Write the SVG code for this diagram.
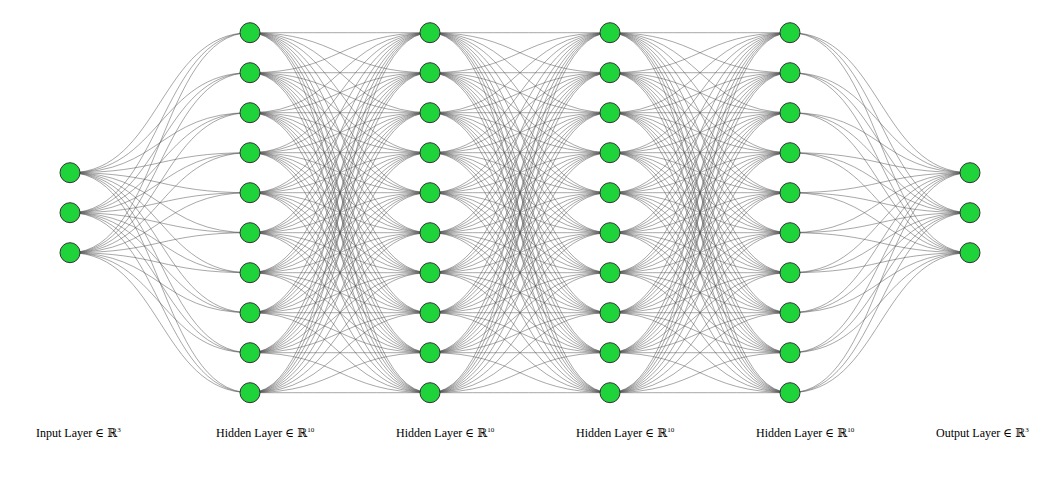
<svg xmlns="http://www.w3.org/2000/svg" width="1052" height="477" viewBox="0 0 1052 477">
<style>
.e{fill:none;stroke:#505050;stroke-width:0.5;}
.n{fill:#1fd43b;stroke:#333333;stroke-width:1;}
.t{font-family:"Liberation Serif","DejaVu Serif",serif;font-size:12px;fill:#000;}
.s{font-size:7px;}
</style>
<rect width="1052" height="477" fill="#ffffff"/>
<g id="connectors">
<path class="e" d="M70 172.7c90 0 90-140 180-140"/><path class="e" d="M70 172.7c90 0 90-100 180-100"/><path class="e" d="M70 172.7c90 0 90-60 180-60"/><path class="e" d="M70 172.7c90 0 90-20 180-20"/><path class="e" d="M70 172.7c90 0 90 20 180 20"/><path class="e" d="M70 172.7c90 0 90 60 180 60"/><path class="e" d="M70 172.7c90 0 90 100 180 100"/><path class="e" d="M70 172.7c90 0 90 140 180 140"/><path class="e" d="M70 172.7c90 0 90 180 180 180"/><path class="e" d="M70 172.7c90 0 90 220 180 220"/>
<path class="e" d="M70 212.7c90 0 90-180 180-180"/><path class="e" d="M70 212.7c90 0 90-140 180-140"/><path class="e" d="M70 212.7c90 0 90-100 180-100"/><path class="e" d="M70 212.7c90 0 90-60 180-60"/><path class="e" d="M70 212.7c90 0 90-20 180-20"/><path class="e" d="M70 212.7c90 0 90 20 180 20"/><path class="e" d="M70 212.7c90 0 90 60 180 60"/><path class="e" d="M70 212.7c90 0 90 100 180 100"/><path class="e" d="M70 212.7c90 0 90 140 180 140"/><path class="e" d="M70 212.7c90 0 90 180 180 180"/>
<path class="e" d="M70 252.7c90 0 90-220 180-220"/><path class="e" d="M70 252.7c90 0 90-180 180-180"/><path class="e" d="M70 252.7c90 0 90-140 180-140"/><path class="e" d="M70 252.7c90 0 90-100 180-100"/><path class="e" d="M70 252.7c90 0 90-60 180-60"/><path class="e" d="M70 252.7c90 0 90-20 180-20"/><path class="e" d="M70 252.7c90 0 90 20 180 20"/><path class="e" d="M70 252.7c90 0 90 60 180 60"/><path class="e" d="M70 252.7c90 0 90 100 180 100"/><path class="e" d="M70 252.7c90 0 90 140 180 140"/>

<path class="e" d="M250 32.7c90 0 90 0 180 0"/><path class="e" d="M250 32.7c90 0 90 40 180 40"/><path class="e" d="M250 32.7c90 0 90 80 180 80"/><path class="e" d="M250 32.7c90 0 90 120 180 120"/><path class="e" d="M250 32.7c90 0 90 160 180 160"/><path class="e" d="M250 32.7c90 0 90 200 180 200"/><path class="e" d="M250 32.7c90 0 90 240 180 240"/><path class="e" d="M250 32.7c90 0 90 280 180 280"/><path class="e" d="M250 32.7c90 0 90 320 180 320"/><path class="e" d="M250 32.7c90 0 90 360 180 360"/>
<path class="e" d="M250 72.7c90 0 90-40 180-40"/><path class="e" d="M250 72.7c90 0 90 0 180 0"/><path class="e" d="M250 72.7c90 0 90 40 180 40"/><path class="e" d="M250 72.7c90 0 90 80 180 80"/><path class="e" d="M250 72.7c90 0 90 120 180 120"/><path class="e" d="M250 72.7c90 0 90 160 180 160"/><path class="e" d="M250 72.7c90 0 90 200 180 200"/><path class="e" d="M250 72.7c90 0 90 240 180 240"/><path class="e" d="M250 72.7c90 0 90 280 180 280"/><path class="e" d="M250 72.7c90 0 90 320 180 320"/>
<path class="e" d="M250 112.7c90 0 90-80 180-80"/><path class="e" d="M250 112.7c90 0 90-40 180-40"/><path class="e" d="M250 112.7c90 0 90 0 180 0"/><path class="e" d="M250 112.7c90 0 90 40 180 40"/><path class="e" d="M250 112.7c90 0 90 80 180 80"/><path class="e" d="M250 112.7c90 0 90 120 180 120"/><path class="e" d="M250 112.7c90 0 90 160 180 160"/><path class="e" d="M250 112.7c90 0 90 200 180 200"/><path class="e" d="M250 112.7c90 0 90 240 180 240"/><path class="e" d="M250 112.7c90 0 90 280 180 280"/>
<path class="e" d="M250 152.7c90 0 90-120 180-120"/><path class="e" d="M250 152.7c90 0 90-80 180-80"/><path class="e" d="M250 152.7c90 0 90-40 180-40"/><path class="e" d="M250 152.7c90 0 90 0 180 0"/><path class="e" d="M250 152.7c90 0 90 40 180 40"/><path class="e" d="M250 152.7c90 0 90 80 180 80"/><path class="e" d="M250 152.7c90 0 90 120 180 120"/><path class="e" d="M250 152.7c90 0 90 160 180 160"/><path class="e" d="M250 152.7c90 0 90 200 180 200"/><path class="e" d="M250 152.7c90 0 90 240 180 240"/>
<path class="e" d="M250 192.7c90 0 90-160 180-160"/><path class="e" d="M250 192.7c90 0 90-120 180-120"/><path class="e" d="M250 192.7c90 0 90-80 180-80"/><path class="e" d="M250 192.7c90 0 90-40 180-40"/><path class="e" d="M250 192.7c90 0 90 0 180 0"/><path class="e" d="M250 192.7c90 0 90 40 180 40"/><path class="e" d="M250 192.7c90 0 90 80 180 80"/><path class="e" d="M250 192.7c90 0 90 120 180 120"/><path class="e" d="M250 192.7c90 0 90 160 180 160"/><path class="e" d="M250 192.7c90 0 90 200 180 200"/>
<path class="e" d="M250 232.7c90 0 90-200 180-200"/><path class="e" d="M250 232.7c90 0 90-160 180-160"/><path class="e" d="M250 232.7c90 0 90-120 180-120"/><path class="e" d="M250 232.7c90 0 90-80 180-80"/><path class="e" d="M250 232.7c90 0 90-40 180-40"/><path class="e" d="M250 232.7c90 0 90 0 180 0"/><path class="e" d="M250 232.7c90 0 90 40 180 40"/><path class="e" d="M250 232.7c90 0 90 80 180 80"/><path class="e" d="M250 232.7c90 0 90 120 180 120"/><path class="e" d="M250 232.7c90 0 90 160 180 160"/>
<path class="e" d="M250 272.7c90 0 90-240 180-240"/><path class="e" d="M250 272.7c90 0 90-200 180-200"/><path class="e" d="M250 272.7c90 0 90-160 180-160"/><path class="e" d="M250 272.7c90 0 90-120 180-120"/><path class="e" d="M250 272.7c90 0 90-80 180-80"/><path class="e" d="M250 272.7c90 0 90-40 180-40"/><path class="e" d="M250 272.7c90 0 90 0 180 0"/><path class="e" d="M250 272.7c90 0 90 40 180 40"/><path class="e" d="M250 272.7c90 0 90 80 180 80"/><path class="e" d="M250 272.7c90 0 90 120 180 120"/>
<path class="e" d="M250 312.7c90 0 90-280 180-280"/><path class="e" d="M250 312.7c90 0 90-240 180-240"/><path class="e" d="M250 312.7c90 0 90-200 180-200"/><path class="e" d="M250 312.7c90 0 90-160 180-160"/><path class="e" d="M250 312.7c90 0 90-120 180-120"/><path class="e" d="M250 312.7c90 0 90-80 180-80"/><path class="e" d="M250 312.7c90 0 90-40 180-40"/><path class="e" d="M250 312.7c90 0 90 0 180 0"/><path class="e" d="M250 312.7c90 0 90 40 180 40"/><path class="e" d="M250 312.7c90 0 90 80 180 80"/>
<path class="e" d="M250 352.7c90 0 90-320 180-320"/><path class="e" d="M250 352.7c90 0 90-280 180-280"/><path class="e" d="M250 352.7c90 0 90-240 180-240"/><path class="e" d="M250 352.7c90 0 90-200 180-200"/><path class="e" d="M250 352.7c90 0 90-160 180-160"/><path class="e" d="M250 352.7c90 0 90-120 180-120"/><path class="e" d="M250 352.7c90 0 90-80 180-80"/><path class="e" d="M250 352.7c90 0 90-40 180-40"/><path class="e" d="M250 352.7c90 0 90 0 180 0"/><path class="e" d="M250 352.7c90 0 90 40 180 40"/>
<path class="e" d="M250 392.7c90 0 90-360 180-360"/><path class="e" d="M250 392.7c90 0 90-320 180-320"/><path class="e" d="M250 392.7c90 0 90-280 180-280"/><path class="e" d="M250 392.7c90 0 90-240 180-240"/><path class="e" d="M250 392.7c90 0 90-200 180-200"/><path class="e" d="M250 392.7c90 0 90-160 180-160"/><path class="e" d="M250 392.7c90 0 90-120 180-120"/><path class="e" d="M250 392.7c90 0 90-80 180-80"/><path class="e" d="M250 392.7c90 0 90-40 180-40"/><path class="e" d="M250 392.7c90 0 90 0 180 0"/>

<path class="e" d="M430 32.7c90 0 90 0 180 0"/><path class="e" d="M430 32.7c90 0 90 40 180 40"/><path class="e" d="M430 32.7c90 0 90 80 180 80"/><path class="e" d="M430 32.7c90 0 90 120 180 120"/><path class="e" d="M430 32.7c90 0 90 160 180 160"/><path class="e" d="M430 32.7c90 0 90 200 180 200"/><path class="e" d="M430 32.7c90 0 90 240 180 240"/><path class="e" d="M430 32.7c90 0 90 280 180 280"/><path class="e" d="M430 32.7c90 0 90 320 180 320"/><path class="e" d="M430 32.7c90 0 90 360 180 360"/>
<path class="e" d="M430 72.7c90 0 90-40 180-40"/><path class="e" d="M430 72.7c90 0 90 0 180 0"/><path class="e" d="M430 72.7c90 0 90 40 180 40"/><path class="e" d="M430 72.7c90 0 90 80 180 80"/><path class="e" d="M430 72.7c90 0 90 120 180 120"/><path class="e" d="M430 72.7c90 0 90 160 180 160"/><path class="e" d="M430 72.7c90 0 90 200 180 200"/><path class="e" d="M430 72.7c90 0 90 240 180 240"/><path class="e" d="M430 72.7c90 0 90 280 180 280"/><path class="e" d="M430 72.7c90 0 90 320 180 320"/>
<path class="e" d="M430 112.7c90 0 90-80 180-80"/><path class="e" d="M430 112.7c90 0 90-40 180-40"/><path class="e" d="M430 112.7c90 0 90 0 180 0"/><path class="e" d="M430 112.7c90 0 90 40 180 40"/><path class="e" d="M430 112.7c90 0 90 80 180 80"/><path class="e" d="M430 112.7c90 0 90 120 180 120"/><path class="e" d="M430 112.7c90 0 90 160 180 160"/><path class="e" d="M430 112.7c90 0 90 200 180 200"/><path class="e" d="M430 112.7c90 0 90 240 180 240"/><path class="e" d="M430 112.7c90 0 90 280 180 280"/>
<path class="e" d="M430 152.7c90 0 90-120 180-120"/><path class="e" d="M430 152.7c90 0 90-80 180-80"/><path class="e" d="M430 152.7c90 0 90-40 180-40"/><path class="e" d="M430 152.7c90 0 90 0 180 0"/><path class="e" d="M430 152.7c90 0 90 40 180 40"/><path class="e" d="M430 152.7c90 0 90 80 180 80"/><path class="e" d="M430 152.7c90 0 90 120 180 120"/><path class="e" d="M430 152.7c90 0 90 160 180 160"/><path class="e" d="M430 152.7c90 0 90 200 180 200"/><path class="e" d="M430 152.7c90 0 90 240 180 240"/>
<path class="e" d="M430 192.7c90 0 90-160 180-160"/><path class="e" d="M430 192.7c90 0 90-120 180-120"/><path class="e" d="M430 192.7c90 0 90-80 180-80"/><path class="e" d="M430 192.7c90 0 90-40 180-40"/><path class="e" d="M430 192.7c90 0 90 0 180 0"/><path class="e" d="M430 192.7c90 0 90 40 180 40"/><path class="e" d="M430 192.7c90 0 90 80 180 80"/><path class="e" d="M430 192.7c90 0 90 120 180 120"/><path class="e" d="M430 192.7c90 0 90 160 180 160"/><path class="e" d="M430 192.7c90 0 90 200 180 200"/>
<path class="e" d="M430 232.7c90 0 90-200 180-200"/><path class="e" d="M430 232.7c90 0 90-160 180-160"/><path class="e" d="M430 232.7c90 0 90-120 180-120"/><path class="e" d="M430 232.7c90 0 90-80 180-80"/><path class="e" d="M430 232.7c90 0 90-40 180-40"/><path class="e" d="M430 232.7c90 0 90 0 180 0"/><path class="e" d="M430 232.7c90 0 90 40 180 40"/><path class="e" d="M430 232.7c90 0 90 80 180 80"/><path class="e" d="M430 232.7c90 0 90 120 180 120"/><path class="e" d="M430 232.7c90 0 90 160 180 160"/>
<path class="e" d="M430 272.7c90 0 90-240 180-240"/><path class="e" d="M430 272.7c90 0 90-200 180-200"/><path class="e" d="M430 272.7c90 0 90-160 180-160"/><path class="e" d="M430 272.7c90 0 90-120 180-120"/><path class="e" d="M430 272.7c90 0 90-80 180-80"/><path class="e" d="M430 272.7c90 0 90-40 180-40"/><path class="e" d="M430 272.7c90 0 90 0 180 0"/><path class="e" d="M430 272.7c90 0 90 40 180 40"/><path class="e" d="M430 272.7c90 0 90 80 180 80"/><path class="e" d="M430 272.7c90 0 90 120 180 120"/>
<path class="e" d="M430 312.7c90 0 90-280 180-280"/><path class="e" d="M430 312.7c90 0 90-240 180-240"/><path class="e" d="M430 312.7c90 0 90-200 180-200"/><path class="e" d="M430 312.7c90 0 90-160 180-160"/><path class="e" d="M430 312.7c90 0 90-120 180-120"/><path class="e" d="M430 312.7c90 0 90-80 180-80"/><path class="e" d="M430 312.7c90 0 90-40 180-40"/><path class="e" d="M430 312.7c90 0 90 0 180 0"/><path class="e" d="M430 312.7c90 0 90 40 180 40"/><path class="e" d="M430 312.7c90 0 90 80 180 80"/>
<path class="e" d="M430 352.7c90 0 90-320 180-320"/><path class="e" d="M430 352.7c90 0 90-280 180-280"/><path class="e" d="M430 352.7c90 0 90-240 180-240"/><path class="e" d="M430 352.7c90 0 90-200 180-200"/><path class="e" d="M430 352.7c90 0 90-160 180-160"/><path class="e" d="M430 352.7c90 0 90-120 180-120"/><path class="e" d="M430 352.7c90 0 90-80 180-80"/><path class="e" d="M430 352.7c90 0 90-40 180-40"/><path class="e" d="M430 352.7c90 0 90 0 180 0"/><path class="e" d="M430 352.7c90 0 90 40 180 40"/>
<path class="e" d="M430 392.7c90 0 90-360 180-360"/><path class="e" d="M430 392.7c90 0 90-320 180-320"/><path class="e" d="M430 392.7c90 0 90-280 180-280"/><path class="e" d="M430 392.7c90 0 90-240 180-240"/><path class="e" d="M430 392.7c90 0 90-200 180-200"/><path class="e" d="M430 392.7c90 0 90-160 180-160"/><path class="e" d="M430 392.7c90 0 90-120 180-120"/><path class="e" d="M430 392.7c90 0 90-80 180-80"/><path class="e" d="M430 392.7c90 0 90-40 180-40"/><path class="e" d="M430 392.7c90 0 90 0 180 0"/>

<path class="e" d="M610 32.7c90 0 90 0 180 0"/><path class="e" d="M610 32.7c90 0 90 40 180 40"/><path class="e" d="M610 32.7c90 0 90 80 180 80"/><path class="e" d="M610 32.7c90 0 90 120 180 120"/><path class="e" d="M610 32.7c90 0 90 160 180 160"/><path class="e" d="M610 32.7c90 0 90 200 180 200"/><path class="e" d="M610 32.7c90 0 90 240 180 240"/><path class="e" d="M610 32.7c90 0 90 280 180 280"/><path class="e" d="M610 32.7c90 0 90 320 180 320"/><path class="e" d="M610 32.7c90 0 90 360 180 360"/>
<path class="e" d="M610 72.7c90 0 90-40 180-40"/><path class="e" d="M610 72.7c90 0 90 0 180 0"/><path class="e" d="M610 72.7c90 0 90 40 180 40"/><path class="e" d="M610 72.7c90 0 90 80 180 80"/><path class="e" d="M610 72.7c90 0 90 120 180 120"/><path class="e" d="M610 72.7c90 0 90 160 180 160"/><path class="e" d="M610 72.7c90 0 90 200 180 200"/><path class="e" d="M610 72.7c90 0 90 240 180 240"/><path class="e" d="M610 72.7c90 0 90 280 180 280"/><path class="e" d="M610 72.7c90 0 90 320 180 320"/>
<path class="e" d="M610 112.7c90 0 90-80 180-80"/><path class="e" d="M610 112.7c90 0 90-40 180-40"/><path class="e" d="M610 112.7c90 0 90 0 180 0"/><path class="e" d="M610 112.7c90 0 90 40 180 40"/><path class="e" d="M610 112.7c90 0 90 80 180 80"/><path class="e" d="M610 112.7c90 0 90 120 180 120"/><path class="e" d="M610 112.7c90 0 90 160 180 160"/><path class="e" d="M610 112.7c90 0 90 200 180 200"/><path class="e" d="M610 112.7c90 0 90 240 180 240"/><path class="e" d="M610 112.7c90 0 90 280 180 280"/>
<path class="e" d="M610 152.7c90 0 90-120 180-120"/><path class="e" d="M610 152.7c90 0 90-80 180-80"/><path class="e" d="M610 152.7c90 0 90-40 180-40"/><path class="e" d="M610 152.7c90 0 90 0 180 0"/><path class="e" d="M610 152.7c90 0 90 40 180 40"/><path class="e" d="M610 152.7c90 0 90 80 180 80"/><path class="e" d="M610 152.7c90 0 90 120 180 120"/><path class="e" d="M610 152.7c90 0 90 160 180 160"/><path class="e" d="M610 152.7c90 0 90 200 180 200"/><path class="e" d="M610 152.7c90 0 90 240 180 240"/>
<path class="e" d="M610 192.7c90 0 90-160 180-160"/><path class="e" d="M610 192.7c90 0 90-120 180-120"/><path class="e" d="M610 192.7c90 0 90-80 180-80"/><path class="e" d="M610 192.7c90 0 90-40 180-40"/><path class="e" d="M610 192.7c90 0 90 0 180 0"/><path class="e" d="M610 192.7c90 0 90 40 180 40"/><path class="e" d="M610 192.7c90 0 90 80 180 80"/><path class="e" d="M610 192.7c90 0 90 120 180 120"/><path class="e" d="M610 192.7c90 0 90 160 180 160"/><path class="e" d="M610 192.7c90 0 90 200 180 200"/>
<path class="e" d="M610 232.7c90 0 90-200 180-200"/><path class="e" d="M610 232.7c90 0 90-160 180-160"/><path class="e" d="M610 232.7c90 0 90-120 180-120"/><path class="e" d="M610 232.7c90 0 90-80 180-80"/><path class="e" d="M610 232.7c90 0 90-40 180-40"/><path class="e" d="M610 232.7c90 0 90 0 180 0"/><path class="e" d="M610 232.7c90 0 90 40 180 40"/><path class="e" d="M610 232.7c90 0 90 80 180 80"/><path class="e" d="M610 232.7c90 0 90 120 180 120"/><path class="e" d="M610 232.7c90 0 90 160 180 160"/>
<path class="e" d="M610 272.7c90 0 90-240 180-240"/><path class="e" d="M610 272.7c90 0 90-200 180-200"/><path class="e" d="M610 272.7c90 0 90-160 180-160"/><path class="e" d="M610 272.7c90 0 90-120 180-120"/><path class="e" d="M610 272.7c90 0 90-80 180-80"/><path class="e" d="M610 272.7c90 0 90-40 180-40"/><path class="e" d="M610 272.7c90 0 90 0 180 0"/><path class="e" d="M610 272.7c90 0 90 40 180 40"/><path class="e" d="M610 272.7c90 0 90 80 180 80"/><path class="e" d="M610 272.7c90 0 90 120 180 120"/>
<path class="e" d="M610 312.7c90 0 90-280 180-280"/><path class="e" d="M610 312.7c90 0 90-240 180-240"/><path class="e" d="M610 312.7c90 0 90-200 180-200"/><path class="e" d="M610 312.7c90 0 90-160 180-160"/><path class="e" d="M610 312.7c90 0 90-120 180-120"/><path class="e" d="M610 312.7c90 0 90-80 180-80"/><path class="e" d="M610 312.7c90 0 90-40 180-40"/><path class="e" d="M610 312.7c90 0 90 0 180 0"/><path class="e" d="M610 312.7c90 0 90 40 180 40"/><path class="e" d="M610 312.7c90 0 90 80 180 80"/>
<path class="e" d="M610 352.7c90 0 90-320 180-320"/><path class="e" d="M610 352.7c90 0 90-280 180-280"/><path class="e" d="M610 352.7c90 0 90-240 180-240"/><path class="e" d="M610 352.7c90 0 90-200 180-200"/><path class="e" d="M610 352.7c90 0 90-160 180-160"/><path class="e" d="M610 352.7c90 0 90-120 180-120"/><path class="e" d="M610 352.7c90 0 90-80 180-80"/><path class="e" d="M610 352.7c90 0 90-40 180-40"/><path class="e" d="M610 352.7c90 0 90 0 180 0"/><path class="e" d="M610 352.7c90 0 90 40 180 40"/>
<path class="e" d="M610 392.7c90 0 90-360 180-360"/><path class="e" d="M610 392.7c90 0 90-320 180-320"/><path class="e" d="M610 392.7c90 0 90-280 180-280"/><path class="e" d="M610 392.7c90 0 90-240 180-240"/><path class="e" d="M610 392.7c90 0 90-200 180-200"/><path class="e" d="M610 392.7c90 0 90-160 180-160"/><path class="e" d="M610 392.7c90 0 90-120 180-120"/><path class="e" d="M610 392.7c90 0 90-80 180-80"/><path class="e" d="M610 392.7c90 0 90-40 180-40"/><path class="e" d="M610 392.7c90 0 90 0 180 0"/>

<path class="e" d="M790 32.7c90 0 90 140 180 140"/><path class="e" d="M790 32.7c90 0 90 180 180 180"/><path class="e" d="M790 32.7c90 0 90 220 180 220"/>
<path class="e" d="M790 72.7c90 0 90 100 180 100"/><path class="e" d="M790 72.7c90 0 90 140 180 140"/><path class="e" d="M790 72.7c90 0 90 180 180 180"/>
<path class="e" d="M790 112.7c90 0 90 60 180 60"/><path class="e" d="M790 112.7c90 0 90 100 180 100"/><path class="e" d="M790 112.7c90 0 90 140 180 140"/>
<path class="e" d="M790 152.7c90 0 90 20 180 20"/><path class="e" d="M790 152.7c90 0 90 60 180 60"/><path class="e" d="M790 152.7c90 0 90 100 180 100"/>
<path class="e" d="M790 192.7c90 0 90-20 180-20"/><path class="e" d="M790 192.7c90 0 90 20 180 20"/><path class="e" d="M790 192.7c90 0 90 60 180 60"/>
<path class="e" d="M790 232.7c90 0 90-60 180-60"/><path class="e" d="M790 232.7c90 0 90-20 180-20"/><path class="e" d="M790 232.7c90 0 90 20 180 20"/>
<path class="e" d="M790 272.7c90 0 90-100 180-100"/><path class="e" d="M790 272.7c90 0 90-60 180-60"/><path class="e" d="M790 272.7c90 0 90-20 180-20"/>
<path class="e" d="M790 312.7c90 0 90-140 180-140"/><path class="e" d="M790 312.7c90 0 90-100 180-100"/><path class="e" d="M790 312.7c90 0 90-60 180-60"/>
<path class="e" d="M790 352.7c90 0 90-180 180-180"/><path class="e" d="M790 352.7c90 0 90-140 180-140"/><path class="e" d="M790 352.7c90 0 90-100 180-100"/>
<path class="e" d="M790 392.7c90 0 90-220 180-220"/><path class="e" d="M790 392.7c90 0 90-180 180-180"/><path class="e" d="M790 392.7c90 0 90-140 180-140"/>
</g>
<g id="layer-input">
<circle id="in-0" class="n" cx="70" cy="172.7" r="10"/>
<circle id="in-1" class="n" cx="70" cy="212.7" r="10"/>
<circle id="in-2" class="n" cx="70" cy="252.7" r="10"/>
</g>
<g id="layer-hidden-1">
<circle id="h1-0" class="n" cx="250" cy="32.7" r="10"/><circle id="h1-1" class="n" cx="250" cy="72.7" r="10"/><circle id="h1-2" class="n" cx="250" cy="112.7" r="10"/><circle id="h1-3" class="n" cx="250" cy="152.7" r="10"/><circle id="h1-4" class="n" cx="250" cy="192.7" r="10"/><circle id="h1-5" class="n" cx="250" cy="232.7" r="10"/><circle id="h1-6" class="n" cx="250" cy="272.7" r="10"/><circle id="h1-7" class="n" cx="250" cy="312.7" r="10"/><circle id="h1-8" class="n" cx="250" cy="352.7" r="10"/><circle id="h1-9" class="n" cx="250" cy="392.7" r="10"/>
</g>
<g id="layer-hidden-2">
<circle id="h2-0" class="n" cx="430" cy="32.7" r="10"/><circle id="h2-1" class="n" cx="430" cy="72.7" r="10"/><circle id="h2-2" class="n" cx="430" cy="112.7" r="10"/><circle id="h2-3" class="n" cx="430" cy="152.7" r="10"/><circle id="h2-4" class="n" cx="430" cy="192.7" r="10"/><circle id="h2-5" class="n" cx="430" cy="232.7" r="10"/><circle id="h2-6" class="n" cx="430" cy="272.7" r="10"/><circle id="h2-7" class="n" cx="430" cy="312.7" r="10"/><circle id="h2-8" class="n" cx="430" cy="352.7" r="10"/><circle id="h2-9" class="n" cx="430" cy="392.7" r="10"/>
</g>
<g id="layer-hidden-3">
<circle id="h3-0" class="n" cx="610" cy="32.7" r="10"/><circle id="h3-1" class="n" cx="610" cy="72.7" r="10"/><circle id="h3-2" class="n" cx="610" cy="112.7" r="10"/><circle id="h3-3" class="n" cx="610" cy="152.7" r="10"/><circle id="h3-4" class="n" cx="610" cy="192.7" r="10"/><circle id="h3-5" class="n" cx="610" cy="232.7" r="10"/><circle id="h3-6" class="n" cx="610" cy="272.7" r="10"/><circle id="h3-7" class="n" cx="610" cy="312.7" r="10"/><circle id="h3-8" class="n" cx="610" cy="352.7" r="10"/><circle id="h3-9" class="n" cx="610" cy="392.7" r="10"/>
</g>
<g id="layer-hidden-4">
<circle id="h4-0" class="n" cx="790" cy="32.7" r="10"/><circle id="h4-1" class="n" cx="790" cy="72.7" r="10"/><circle id="h4-2" class="n" cx="790" cy="112.7" r="10"/><circle id="h4-3" class="n" cx="790" cy="152.7" r="10"/><circle id="h4-4" class="n" cx="790" cy="192.7" r="10"/><circle id="h4-5" class="n" cx="790" cy="232.7" r="10"/><circle id="h4-6" class="n" cx="790" cy="272.7" r="10"/><circle id="h4-7" class="n" cx="790" cy="312.7" r="10"/><circle id="h4-8" class="n" cx="790" cy="352.7" r="10"/><circle id="h4-9" class="n" cx="790" cy="392.7" r="10"/>
</g>
<g id="layer-output">
<circle id="out-0" class="n" cx="970" cy="172.7" r="10"/>
<circle id="out-1" class="n" cx="970" cy="212.7" r="10"/>
<circle id="out-2" class="n" cx="970" cy="252.7" r="10"/>
</g>
<g id="labels">
<text class="t" x="36" y="437">Input Layer ∈ ℝ<tspan class="s" dy="-5">3</tspan></text>
<text class="t" x="216" y="437">Hidden Layer ∈ ℝ<tspan class="s" dy="-5">10</tspan></text>
<text class="t" x="396" y="437">Hidden Layer ∈ ℝ<tspan class="s" dy="-5">10</tspan></text>
<text class="t" x="576" y="437">Hidden Layer ∈ ℝ<tspan class="s" dy="-5">10</tspan></text>
<text class="t" x="756" y="437">Hidden Layer ∈ ℝ<tspan class="s" dy="-5">10</tspan></text>
<text class="t" x="936" y="437">Output Layer ∈ ℝ<tspan class="s" dy="-5">3</tspan></text>
</g>
</svg>
